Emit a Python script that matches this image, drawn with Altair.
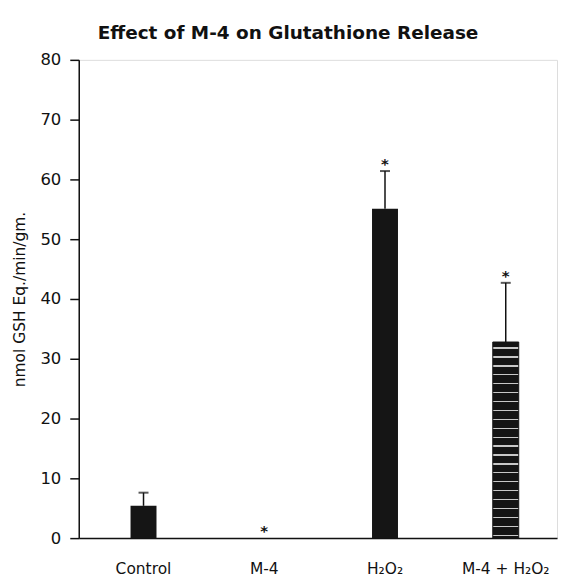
import altair as alt
import pandas as pd

categories = ["Control", "M-4", "H₂O₂", "M-4 + H₂O₂"]
means = [5.4, 0.0, 55.1, 32.8]
errors = [2.2, 0.0, 6.3, 9.9]
significant = [False, True, True, True]
fills = ["speckled", "none", "solid", "striped"]

df = pd.DataFrame({
    "cat": categories,
    "mean": means,
    "err": errors,
    "sig": significant,
    "fill": fills,
})
df["top"] = df["mean"] + df["err"]

FONT = "DejaVu Sans"

xenc = alt.X(
    "cat:N",
    sort=categories,
    title=None,
    scale=alt.Scale(paddingInner=0.785, paddingOuter=0.373, align=0.575),
    axis=alt.Axis(
        labelAngle=0, ticks=False, labelPadding=24, labelFontSize=15.5,
        labelFont=FONT, labelColor="#111", domainColor="#111", domainWidth=1.5,
    ),
)
yscale = alt.Scale(domain=[0, 80], nice=False)
yenc = alt.Y(
    "mean:Q",
    scale=yscale,
    title="nmol GSH Eq./min/gm.",
    axis=alt.Axis(
        values=[0, 10, 20, 30, 40, 50, 60, 70, 80], grid=False, tickSize=9,
        tickColor="#111", tickWidth=1.5, domainColor="#111", domainWidth=1.5,
        labelFontSize=16.5, labelFont=FONT, labelColor="#111", labelPadding=9,
        titleFont=FONT, titleFontSize=15.5, titleFontWeight="normal",
        titleColor="#111", titlePadding=12,
    ),
)

base = alt.Chart(df)

dark_bars = base.transform_filter(
    "datum.fill == 'solid' || datum.fill == 'speckled'"
).mark_bar(color="#151515").encode(x=xenc, y=yenc)

stops = []
n = 22
for k in range(n):
    a = k / n
    b = a + 0.6 / n
    c = a + 0.75 / n
    stops += [
        alt.GradientStop(color="#151515", offset=a),
        alt.GradientStop(color="#151515", offset=b),
        alt.GradientStop(color="#c8c8c8", offset=b),
        alt.GradientStop(color="#c8c8c8", offset=c),
        alt.GradientStop(color="#151515", offset=c),
    ]
stops.append(alt.GradientStop(color="#151515", offset=1))

striped_bars = base.transform_filter("datum.fill == 'striped'").mark_bar(
    color=alt.LinearGradient(gradient="linear", stops=stops, x1=0, x2=0, y1=0, y2=1),
    stroke="#151515", strokeWidth=1,
).encode(x=xenc, y=yenc)

err_rule = base.transform_filter("datum.err > 0").mark_rule(
    color="#111", strokeWidth=1.5
).encode(x=xenc, y=alt.Y("mean:Q", scale=yscale), y2="top:Q")

err_cap = base.transform_filter("datum.err > 0").mark_tick(
    color="#111", thickness=2, size=10, orient="horizontal"
).encode(x=xenc, y=alt.Y("top:Q", scale=yscale))

stars = base.transform_filter("datum.sig").mark_text(
    text="*", fontSize=15, fontWeight="bold", font=FONT, color="#111",
    baseline="middle", dy=-7,
).encode(x=xenc, y=alt.Y("top:Q", scale=yscale))

chart = alt.layer(dark_bars, striped_bars, err_rule, err_cap, stars).properties(
    width=480,
    height=480,
    title=alt.TitleParams(
        "Effect of M-4 on Glutathione Release",
        font=FONT, fontSize=18.5, fontWeight="bold", color="#111",
        anchor="middle", dx=-30, offset=9,
    ),
    padding={"left": 5, "top": 15, "right": 2, "bottom": 0},
).configure_view(
    stroke="#111", strokeWidth=1.5
).configure(background="white")

chart.save("out.html", embed_options={"renderer": "svg", "actions": False})
